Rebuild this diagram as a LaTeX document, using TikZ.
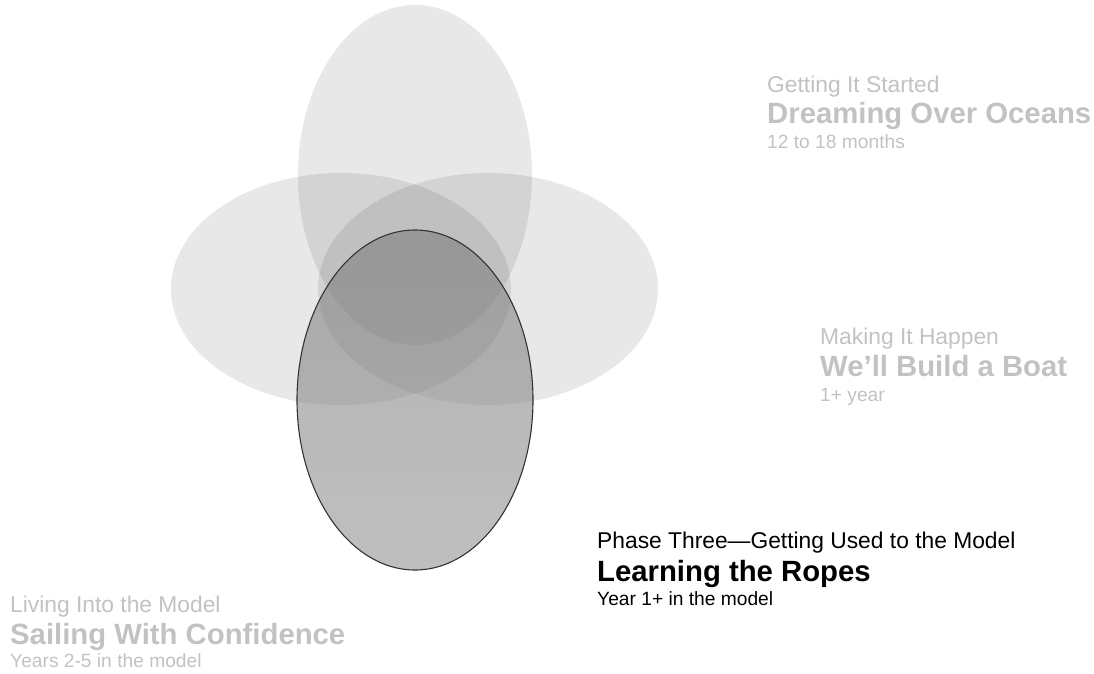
\documentclass[tikz,border=0pt]{standalone}
\usepackage{fontspec}
\setmainfont{Liberation Sans}
\definecolor{txtgray}{RGB}{194,194,194}
\definecolor{rimgray}{RGB}{50,50,50}
\definecolor{dtop}{RGB}{118,118,118}
\definecolor{dbot}{RGB}{138,138,138}
\tikzset{
  lightell/.style={fill=black, fill opacity=0.09, draw=none},
  sub/.style={anchor=base west, inner sep=0pt, font=\fontsize{22.8}{26}\selectfont},
  big/.style={anchor=base west, inner sep=0pt, font=\fontsize{29.3}{33}\selectfont\bfseries},
  small/.style={anchor=base west, inner sep=0pt, font=\fontsize{19.2}{22}\selectfont},
}
\begin{document}
\begin{tikzpicture}[x=1pt,y=-1pt]
\useasboundingbox (0,0) rectangle (1094,673);
% ellipses
\path[lightell] (415,175) ellipse [x radius=117, y radius=170];
\path[lightell] (341,289) ellipse [x radius=170, y radius=116];
\path[lightell] (488,289) ellipse [x radius=170, y radius=116];
\shade[top color=dtop, bottom color=dbot, fill opacity=0.55]
  (415,400) ellipse [x radius=118, y radius=170];
\draw[rimgray, line width=1.1pt] (415,400) ellipse [x radius=118, y radius=170];
% group 1
\node[sub, txtgray] (g1a) at (767,92) {Getting It Started};
\node[big, txtgray] (g1b) at (767,123) {Dreaming Over Oceans};
\node[small, txtgray] (g1c) at (767,148) {12 to 18 months};
% group 2
\node[sub, txtgray] (g2a) at (820,344) {Making It Happen};
\node[big, txtgray] (g2b) at (820,376) {We’ll Build a Boat};
\node[small, txtgray] (g2c) at (820,401) {1+ year};
% group 3
\node[sub, black] (g3a) at (597,548) {Phase Three—Getting Used to the Model};
\node[big, black] (g3b) at (597,581) {Learning the Ropes};
\node[small, black] (g3c) at (597,605) {Year 1+ in the model};
% group 4
\node[sub, txtgray] (g4a) at (10,612) {Living Into the Model};
\node[big, txtgray] (g4b) at (10,644) {Sailing With Confidence};
\node[small, txtgray] (g4c) at (10,667) {Years 2-5 in the model};
\end{tikzpicture}
\end{document}
